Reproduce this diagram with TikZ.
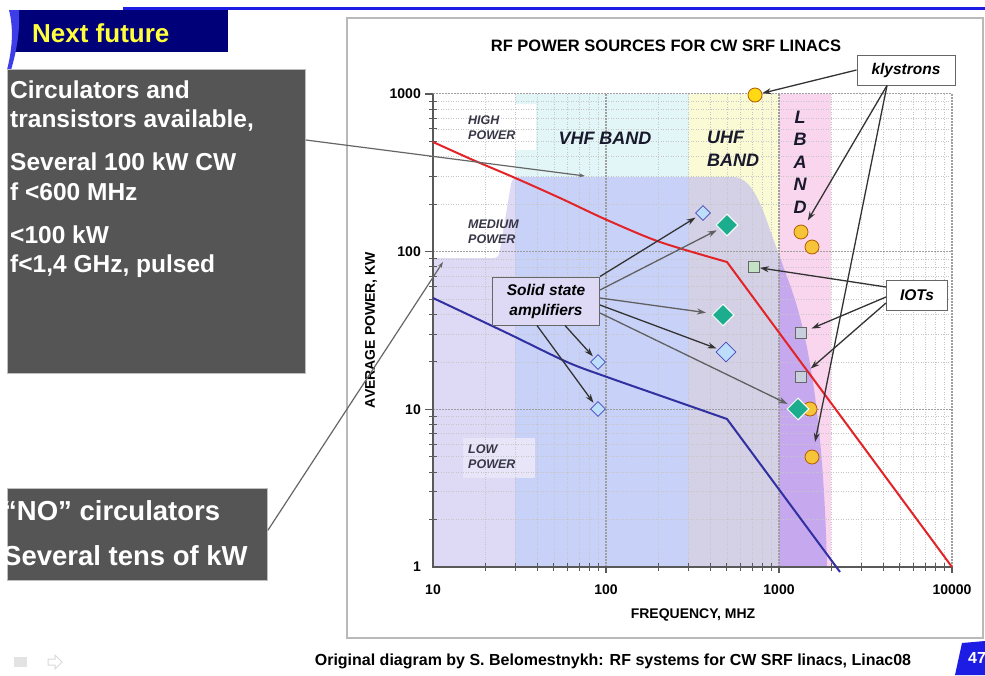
\documentclass[tikz,border=0pt]{standalone}
\usepackage{fontspec}
\setmainfont{Liberation Sans}
\usetikzlibrary{shapes.geometric,arrows.meta}

\definecolor{slideNavy}{RGB}{0,0,120}
\definecolor{slideBlue}{RGB}{28,28,228}
\definecolor{headYellow}{RGB}{255,255,60}
\definecolor{noteGray}{RGB}{85,85,85}
\definecolor{vhfCyan}{RGB}{226,246,248}
\definecolor{uhfYellow}{RGB}{250,250,212}
\definecolor{lbandPink}{RGB}{249,214,238}
\definecolor{ssaLilac}{RGB}{222,217,245}
\definecolor{ssaBlue}{RGB}{200,210,248}
\definecolor{ssaGray}{RGB}{212,208,230}
\definecolor{ssaPurple}{RGB}{198,168,238}
\definecolor{lowPatch}{RGB}{233,229,249}
\definecolor{hiRed}{RGB}{226,36,40}
\definecolor{loBlue}{RGB}{48,48,160}
\definecolor{diaTeal}{RGB}{28,172,142}
\definecolor{diaSky}{RGB}{188,222,250}
\definecolor{klyYellow}{RGB}{255,218,20}
\definecolor{klyGold}{RGB}{246,196,56}
\definecolor{iotGreen}{RGB}{196,226,196}
\definecolor{iotGray}{RGB}{200,208,222}
\definecolor{labelInk}{RGB}{55,55,70}
\definecolor{bandInk}{RGB}{25,25,45}

\tikzset{
    note-box/.style = {fill=noteGray, draw=gray!50, line width=0.8pt, rectangle, inner sep=0pt, anchor=north west},
    note-text/.style = {text=white, font=\fontsize{24.5}{29.5}\selectfont\bfseries, align=left, inner sep=0pt, anchor=north west},
    head-text/.style = {text=headYellow, font=\fontsize{26}{30}\selectfont\bfseries, inner sep=0pt, anchor=base west},
    chart-title/.style = {font=\fontsize{16.5}{19}\selectfont\bfseries, inner sep=0pt},
    power-label/.style = {text=labelInk, font=\fontsize{12.5}{15}\selectfont\bfseries\itshape, align=left, anchor=west, inner sep=0pt},
    band-label/.style = {text=bandInk, font=\fontsize{18}{23}\selectfont\bfseries\itshape, inner sep=0pt},
    tick-label/.style = {font=\fontsize{14}{16}\selectfont\bfseries, inner sep=0pt},
    axis-title/.style = {font=\fontsize{14}{16}\selectfont\bfseries, inner sep=0pt},
    call-box/.style = {draw=gray!80!black, fill=white, line width=1pt, rectangle, font=\fontsize{15.5}{20}\selectfont\bfseries\itshape, inner sep=0pt},
    call-arrow/.style = {draw=black!80, line width=1.3pt, -{Stealth[length=9pt, width=6pt]}},
    note-arrow/.style = {draw=gray!80!black, line width=1.2pt, -{Stealth[length=6pt, width=4pt]}},
    minor-grid/.style = {draw=gray!45, line width=0.6pt, dash pattern=on 1pt off 1.5pt},
    major-grid/.style = {draw=gray!75, line width=1.1pt, dash pattern=on 1.5pt off 1.5pt},
    axis-line/.style = {draw=gray!70!black, line width=1.3pt},
    ssa-sky/.style = {diamond, fill=diaSky, draw=blue!45!gray, line width=0.8pt, inner sep=0pt, minimum size=15pt},
    ssa-teal/.style = {diamond, fill=diaTeal, draw=white, line width=1pt, inner sep=0pt, minimum size=22pt},
    kly-mark/.style = {circle, fill=klyYellow, draw=orange!70!black, line width=0.8pt, inner sep=0pt, minimum size=14pt},
    iot-mark/.style = {rectangle, fill=iotGray, draw=gray!80!black, line width=0.8pt, inner sep=0pt, minimum size=11pt},
}

\begin{document}
\begin{tikzpicture}[x=1pt, y=-1pt]
\clip (0,0) rectangle (985,675);
\fill[white] (0,0) rectangle (985,675);

% slide header
\fill[slideBlue] (123,7) rectangle (985,10);
\fill[slideNavy] (15,10) rectangle (228,52);
\fill[slideBlue!85!white] (9,10) .. controls (14,30) and (12,50) .. (7,70) -- (11,70) .. controls (17,50) and (20,30) .. (19,10) -- cycle;
\node[head-text] (head) at (32,42) {Next future};

% chart frame
\draw[gray!55, line width=1.2pt] (347,18) rectangle (983,638);
\node[chart-title] (title) at (666,46) {RF POWER SOURCES FOR CW SRF LINACS};

% frequency bands
\fill[vhfCyan] (515,94) rectangle (689,567);
\fill[uhfYellow] (689,94) rectangle (779,567);
\fill[lbandPink] (779,94) rectangle (831,567);
\fill[white] (462,104) rectangle (536,150);

% solid state area
\begin{scope}
\clip (433,567) -- (433,258) -- (494,258) .. controls (498,258) and (499,255) .. (500,250) -- (511,184)
      .. controls (512,179) and (514,177) .. (520,177) -- (733,177) .. controls (750,177) and (760,200) .. (770,230)
      -- (790,285) .. controls (812,345) and (824,440) .. (827,567) -- cycle;
\fill[ssaLilac] (433,94) rectangle (515,567);
\fill[ssaBlue] (515,94) rectangle (689,567);
\fill[ssaGray] (689,94) rectangle (779,567);
\fill[ssaPurple] (779,94) rectangle (831,567);
\end{scope}
\fill[lowPatch] (463,438) rectangle (535,478);

% grid
\foreach \d in {0,1,2} {
  \foreach \m in {2,...,9} {
    \pgfmathsetmacro\gx{433+173*(\d+log10(\m))}
    \pgfmathsetmacro\gy{567-157.7*(\d+log10(\m))}
    \draw[minor-grid] (\gx,94) -- (\gx,567);
    \draw[minor-grid] (433,\gy) -- (952,\gy);
    \draw[axis-line, line width=0.9pt] (429,\gy) -- (437,\gy);
    \draw[axis-line, line width=0.9pt] (\gx,563) -- (\gx,571);
  }
}
\foreach \d in {1,2,3} {
  \draw[major-grid] ({433+173*\d},94) -- ({433+173*\d},567);
  \draw[major-grid] (433,{567-157.7*\d}) -- (952,{567-157.7*\d});
  \draw[axis-line] (425,{567-157.7*\d}) -- (433,{567-157.7*\d});
  \draw[axis-line] ({433+173*\d},567) -- ({433+173*\d},573);
}
\draw[axis-line] (433,94) -- (433,567) -- (952,567);

% limits
\draw[hiRed, line width=2pt] plot[smooth] coordinates {(433,142) (473,160) (513,177) (560,198) (607,220) (660,242) (727,262)} -- (952,567);
\draw[loBlue, line width=2pt] plot[smooth] coordinates {(433,298) (507,333) (567,362) (607,377) (667,398) (727,419)} -- (840,572);

% labels
\node[power-label] (hp) at (468,128) {HIGH\\POWER};
\node[power-label] (mp) at (468,232) {MEDIUM\\POWER};
\node[power-label] (lp) at (468,457) {LOW\\POWER};
\node[band-label] (vhf) at (605,138) {VHF BAND};
\node[band-label, align=left, anchor=west] (uhf) at (707,149) {UHF\\BAND};
\node[band-label, align=center, font=\fontsize{18}{22.5}\selectfont\bfseries\itshape] (lband) at (800,162) {L\\B\\A\\N\\D};

\foreach \v/\t in {0/1,1/10,2/100,3/1000}
  \node[tick-label, anchor=east] (y\t) at (421,{567-157.7*\v}) {\t};
\foreach \v/\t in {0/10,1/100,2/1000,3/10000}
  \node[tick-label] (x\t) at ({433+173*\v},590) {\t};
\node[axis-title] (xtitle) at (693,615) {FREQUENCY, MHZ};
\node[axis-title, rotate=90] (ytitle) at (371,330) {AVERAGE POWER, KW};

% sources
\node[ssa-sky] (s1) at (703,213) {};
\node[ssa-sky] (s2) at (598,362) {};
\node[ssa-sky] (s3) at (598,409) {};
\node[ssa-sky, minimum size=20pt] (s4) at (726,352) {};
\node[ssa-teal] (g1) at (727,225) {};
\node[ssa-teal] (g2) at (723,315) {};
\node[kly-mark, fill=klyGold] (k4) at (810,409) {};
\node[ssa-teal] (g3) at (798,409) {};
\node[kly-mark] (k1) at (755,95) {};
\node[kly-mark, fill=klyGold] (k2) at (801,232) {};
\node[kly-mark, fill=klyGold] (k3) at (812,247) {};
\node[kly-mark, fill=klyGold] (k5) at (812,457) {};
\node[iot-mark, fill=iotGreen] (t1) at (754,267) {};
\node[iot-mark] (t2) at (801,333) {};
\node[iot-mark] (t3) at (801,377) {};

% callouts
\node[call-box, minimum width=98pt, minimum height=30pt] (kly) at (906,70) {klystrons};
\node[call-box, minimum width=61pt, minimum height=30pt] (iot) at (917,295) {IOTs};
\node[call-box, fill=ssaLilac, align=center, minimum width=107pt, minimum height=48pt] (ssa) at (546,301) {Solid state\\amplifiers};

\draw[call-arrow] (kly.west) -- (k1);
\draw[call-arrow, shorten >=6pt] ([xshift=-19pt]kly.south) -- (k2);
\draw[call-arrow, shorten >=8pt] ([xshift=-19pt]kly.south) -- (k5);
\draw[call-arrow] ([yshift=8pt]iot.west) -- (t1);
\draw[call-arrow, shorten >=5pt] ([yshift=-2pt]iot.west) -- (t2);
\draw[call-arrow, shorten >=5pt] ([yshift=-8pt]iot.west) -- (t3);

\draw[call-arrow, shorten >=3pt] (ssa.north east) -- (s1);
\draw[call-arrow, draw=gray!75!black, shorten >=3pt] ([yshift=11pt]ssa.east) -- (g1);
\draw[call-arrow, draw=gray!75!black, shorten >=7pt] ([yshift=3pt]ssa.east) -- (g2);
\draw[call-arrow, shorten >=2pt] ([yshift=-4pt]ssa.east) -- (s4);
\draw[call-arrow, draw=gray!75!black, shorten >=3pt] ([yshift=-12pt]ssa.east) -- (g3);
\draw[call-arrow, shorten >=2pt] ([xshift=19pt]ssa.south) -- (s2);
\draw[call-arrow, shorten >=2pt] ([xshift=-9pt]ssa.south) -- (s3);

% notes on the left
\begin{scope}
\clip (7,0) rectangle (985,675);
\node[note-box, minimum width=298pt, minimum height=304pt] (circ) at (7,69) {};
\node[note-text] (circ-text) at (10,80.5) {Circulators and\\transistors available,\\[13.5pt]Several 100 kW CW\\f <600 MHz\\[13.5pt]<100 kW\\f<1,4 GHz, pulsed};
\node[note-box, minimum width=260pt, minimum height=92pt] (nocirc) at (7,488) {};
\node[note-text, font=\fontsize{27.5}{45}\selectfont\bfseries] (nocirc-text) at (3,500.5) {“NO” circulators\\Several tens of kW};
\end{scope}
\coordinate (vhf-tip) at (585,176);
\coordinate (lp-tip) at (443,262);
\draw[note-arrow] ([yshift=-71pt]circ.north east) -- (vhf-tip);
\draw[note-arrow] ([yshift=4pt]nocirc.east) -- (lp-tip);

% footer
\node[font=\fontsize{16}{18}\selectfont\bfseries, inner sep=0pt] (cap) at (613,661) {Original diagram by S. Belomestnykh: RF systems for CW SRF linacs, Linac08};
\fill[slideBlue] (962,643) -- (985,641) -- (985,675) -- (955,675) -- cycle;
\node[text=white, font=\fontsize{16}{19}\selectfont\bfseries, inner sep=0pt, anchor=west] (page) at (968,658) {47};
\fill[gray!22] (14,657) rectangle (27,667);
\draw[gray!30, line width=1pt] (48,659) -- (55,659) -- (55,655) -- (62,662) -- (55,669) -- (55,665) -- (48,665) -- cycle;
\end{tikzpicture}
\end{document}
